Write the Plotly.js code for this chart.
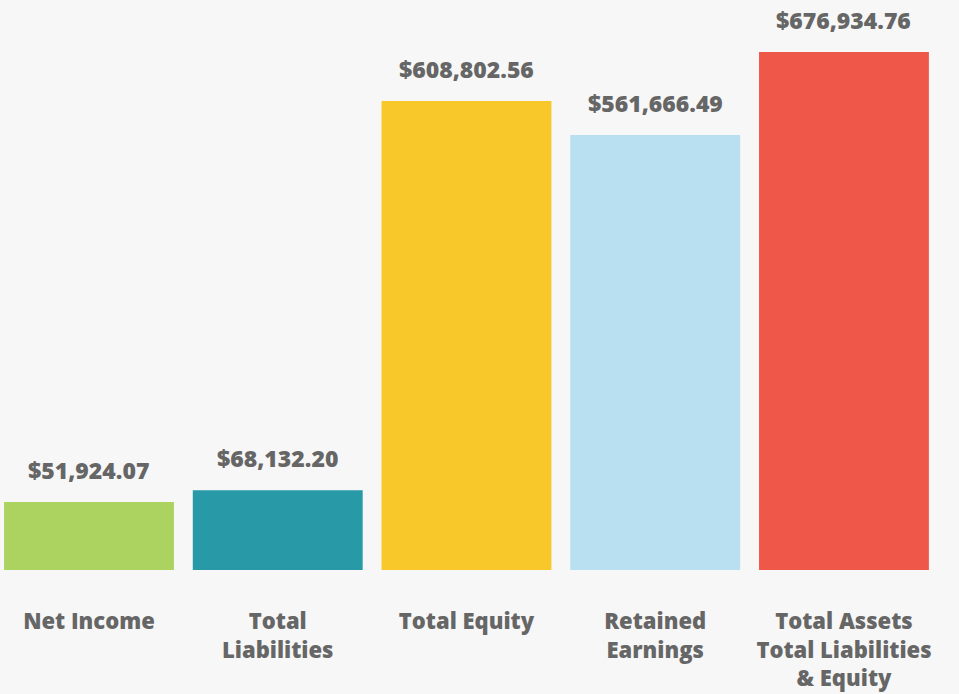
<!DOCTYPE html>
<html>
<head>
<meta charset="utf-8">
<script src="https://cdn.plot.ly/plotly-3.0.1.min.js"></script>
<style>html,body{margin:0;padding:0;background:#f7f7f7;}#chart{width:959px;height:694px;}</style>
</head>
<body>
<div id="chart"></div>
<script>
var categories = ["Net Income", "Total Liabilities", "Total Equity", "Retained Earnings", "Total Assets Total Liabilities & Equity"];
var tickLabels = ["Net Income", "Total<br>Liabilities", "Total Equity", "Retained<br>Earnings", "Total Assets<br>Total Liabilities<br>& Equity"];
var values = [51924.07, 68132.20, 608802.56, 561666.49, 676934.76];
var valueLabels = ["$51,924.07", "$68,132.20", "$608,802.56", "$561,666.49", "$676,934.76"];
var colors = ["#acd25f", "#2799a7", "#f8c82b", "#b8e0f1", "#ef5849"];

var BASE = -42500;
var FONT = "'Open Sans', 'DejaVu Sans', sans-serif";

var trace = {
  type: "bar",
  x: categories,
  y: values.map(function(v){ return v - BASE; }),
  base: BASE,
  marker: {color: colors, line: {width: 0}},
  hoverinfo: "skip"
};

var annotations = categories.map(function(c, i){
  return {
    x: c, y: values[i], xref: "x", yref: "y",
    text: valueLabels[i], showarrow: false,
    yanchor: "bottom", yshift: 14,
    font: {family: FONT, size: 23, color: "#666666", weight: 800}
  };
});

var layout = {
  width: 959, height: 694,
  margin: {l: 0, r: 0, t: 0, b: 124},
  paper_bgcolor: "#f7f7f7", plot_bgcolor: "#f7f7f7",
  bargap: 0.1,
  showlegend: false,
  xaxis: {
    type: "category",
    range: [-0.4715, 4.6095],
    tickvals: categories, ticktext: tickLabels,
    showgrid: false, zeroline: false, showline: false, ticks: "",
    ticklabelstandoff: 36,
    tickfont: {family: FONT, size: 22, color: "#666666", weight: 800}
  },
  yaxis: {
    range: [BASE, 749167],
    visible: false, showgrid: false, zeroline: false
  },
  annotations: annotations
};

Plotly.newPlot("chart", [trace], layout, {displayModeBar: false, staticPlot: true});
</script>
</body>
</html>
